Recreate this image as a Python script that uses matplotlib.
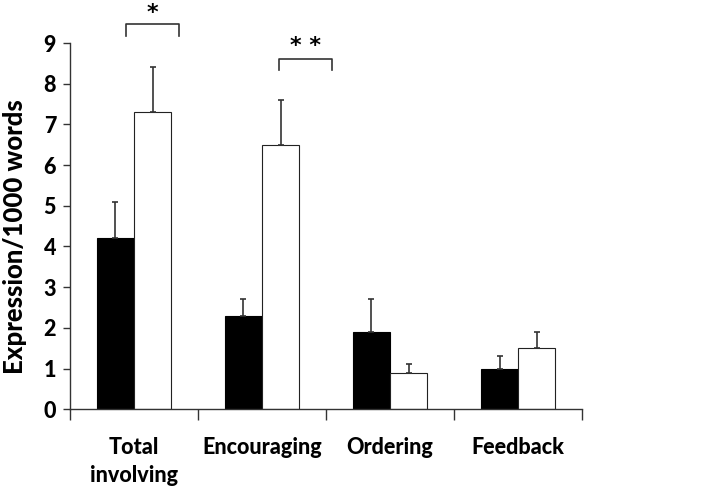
import matplotlib.pyplot as plt
import numpy as np

# data
categories = ['Total\ninvolving', 'Encouraging', 'Ordering', 'Feedback']
black_vals = [4.2, 2.3, 1.9, 1.0]
black_err = [0.9, 0.4, 0.8, 0.3]
white_vals = [7.3, 6.5, 0.9, 1.5]
white_err = [1.1, 1.1, 0.2, 0.4]

plt.rcParams['font.family'] = ['Lato', 'DejaVu Sans']

fig = plt.figure(figsize=(7.09, 4.86), dpi=100)
ax = fig.add_axes([0.0987, 0.158, 0.7223, 0.7535])

x = np.arange(len(categories))
w = 0.29
ekw = dict(ecolor='#333333', elinewidth=1.2, capsize=2.5, capthick=1.2)
ax.bar(x - w / 2, black_vals, w, color='black', edgecolor='black', linewidth=0.8,
       yerr=[np.zeros(4), black_err], error_kw=ekw)
ax.bar(x + w / 2, white_vals, w, color='white', edgecolor='#222222', linewidth=0.8,
       yerr=[np.zeros(4), white_err], error_kw=ekw)

ax.set_xlim(-0.5, 3.5)
ax.set_ylim(0, 9)
ax.set_yticks(range(10))
ax.set_yticklabels([str(i) for i in range(10)], fontsize=15.5, fontweight='black')
ax.tick_params(axis='y', length=5, width=1, color='#333333', pad=5)
ax.set_xticks(x)
ax.set_xticklabels(categories, fontsize=15.5, fontweight='black', linespacing=1.4, va='top')
ax.tick_params(axis='x', length=0, pad=20)
ax.set_xticks(np.arange(-0.5, 4.0, 1.0), minor=True)
ax.tick_params(axis='x', which='minor', length=8, width=1, color='#333333')
ax.set_ylabel('Expression/1000 words', fontsize=18.5, fontweight='black')
ax.yaxis.set_label_coords(-0.084, 0.47)

for s in ['top', 'right']:
    ax.spines[s].set_visible(False)
for s in ['left', 'bottom']:
    ax.spines[s].set_color('#333333')
    ax.spines[s].set_linewidth(1)

# significance brackets
def bracket(x0, x1, y0, y1, text, ty):
    ax.plot([x0, x0, x1, x1], [y0, y1, y1, y0], color='#333333', lw=1.2, clip_on=False)
    ax.text((x0 + x1) / 2, ty, text, ha='center', va='center', fontsize=16,
            fontweight='bold', family='DejaVu Sans', clip_on=False)

bracket(-0.066, 0.35, 9.17, 9.47, '*', 9.74)
bracket(1.13, 1.55, 8.34, 8.6, '* *', 8.92)

fig.savefig('out.png', dpi=100)
